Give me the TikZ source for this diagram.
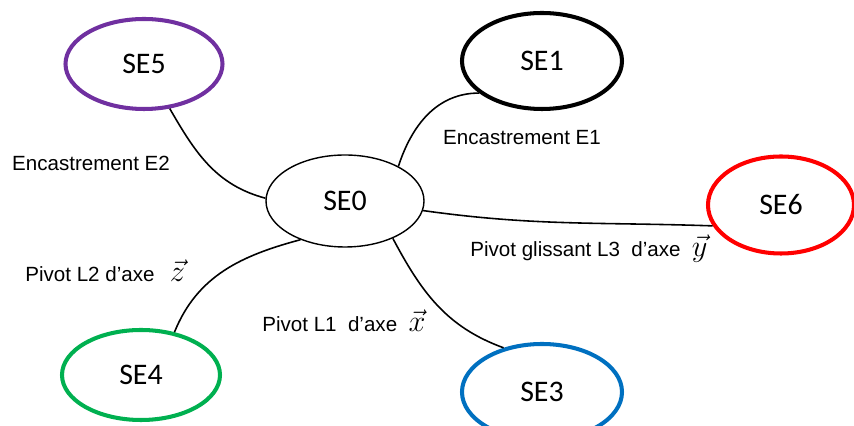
\documentclass[tikz,border=0pt]{standalone}
\usepackage{fontspec}
\setmainfont{Liberation Sans}
\newfontfamily\calibri{Carlito}
\usepackage{amsmath}
\usetikzlibrary{shapes.geometric}
\definecolor{sepurple}{RGB}{112,48,160}
\definecolor{segreen}{RGB}{0,176,80}
\definecolor{seblue}{RGB}{0,112,192}
\definecolor{sered}{RGB}{255,0,0}

\begin{document}
\begin{tikzpicture}[
    sys/.style={ellipse, draw, inner sep=0pt, minimum width=3.16cm, minimum height=1.84cm,
                font=\calibri\fontsize{17}{20}\selectfont},
    ring/.style={line width=2.3pt},
    link/.style={line width=0.9pt},
    lbl/.style={font=\fontsize{11.7}{14}\selectfont, inner sep=0pt}
]
    \useasboundingbox (0,0) rectangle (17.08,8.52);

    \node[sys, line width=0.8pt] (se0) at (6.90, 4.50) {SE0};
    \node[sys, ring] (se1) at (10.84, 7.30) [minimum width=3.20cm, minimum height=1.92cm] {SE1};
    \node[sys, ring, draw=sepurple] (se5) at (2.88, 7.24) [minimum width=3.14cm, minimum height=1.80cm] {SE5};
    \node[sys, ring, draw=sered] (se6) at (15.62, 4.42) [minimum width=2.92cm, minimum height=1.94cm] {SE6};
    \node[sys, ring, draw=segreen] (se4) at (2.82, 1.02) [minimum width=3.16cm, minimum height=1.80cm] {SE4};
    \node[sys, ring, draw=seblue] (se3) at (10.84, 0.68) [minimum width=3.20cm, minimum height=1.92cm] {SE3};

    \draw[link] (se0.178) to[out=165, in=-60] (se5.-60);
    \draw[link] (se0.33) to[out=72, in=180] (se1.-153);
    \draw[link] (se0.-7) to[out=-8, in=178] (se6.-163);
    \draw[link] (se0.-139) to[out=195, in=68] (se4.52);
    \draw[link] (se0.-38) to[out=-62, in=160] (se3.131);

    \node[lbl] (lblE2) at (1.82, 5.26) {Encastrement E2};
    \node[lbl] (lblE1) at (10.44, 5.76) {Encastrement E1};
    \node[lbl, anchor=base west] (lblL3) at (9.40, 3.38)
        {Pivot glissant L3\ \ d’axe\hspace{0.55em}{\fontsize{16}{18}\selectfont$\vec{y}$}};
    \node[lbl, anchor=base west] (lblL2) at (0.50, 2.88)
        {Pivot L2 d’axe\hspace{0.75em}{\fontsize{16}{18}\selectfont$\vec{z}$}};
    \node[lbl, anchor=base west] (lblL1) at (5.24, 1.88)
        {Pivot L1\ \ d’axe\hspace{0.55em}{\fontsize{16}{18}\selectfont$\vec{x}$}};
\end{tikzpicture}
\end{document}
